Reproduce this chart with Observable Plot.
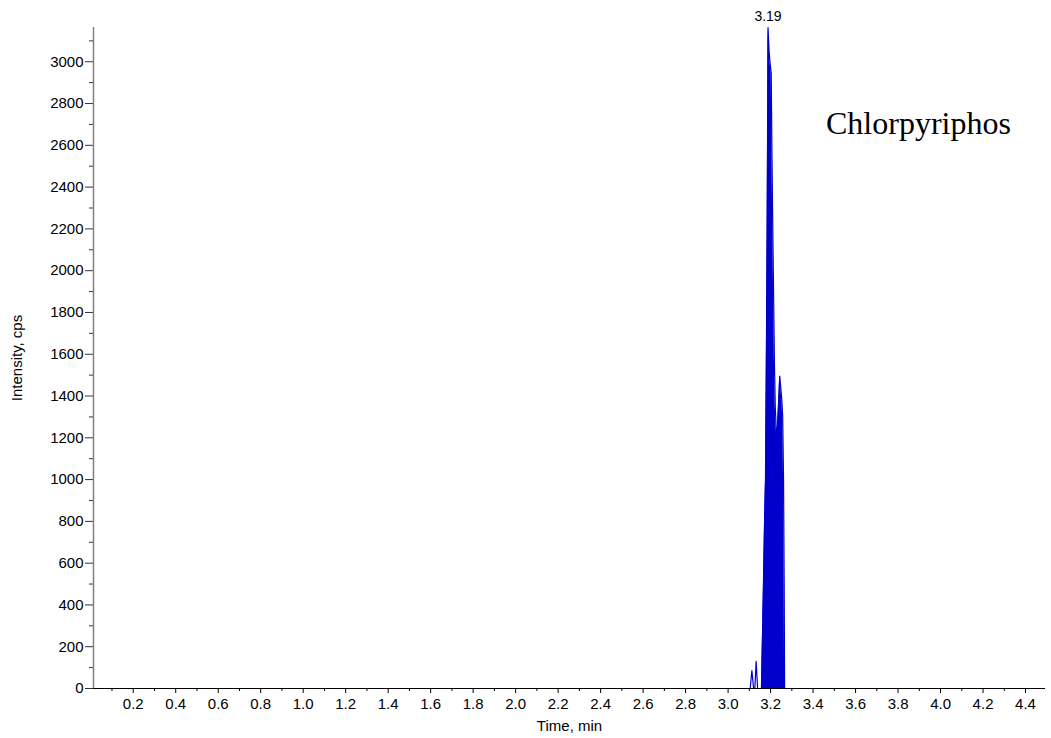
<!DOCTYPE html>
<html>
<head>
<meta charset="utf-8">
<script src="https://cdn.jsdelivr.net/npm/d3@7"></script>
<script src="https://cdn.jsdelivr.net/npm/@observablehq/plot@0.6"></script>
<style>
  html, body { margin: 0; padding: 0; background: #fff; }
  #wrap { position: relative; width: 1051px; height: 738px; }
  #compound { position: absolute; left: 826px; top: 107px; font-family: "Liberation Serif", "Times New Roman", serif; font-size: 32px; color: #000; line-height: 1; white-space: nowrap; }
</style>
</head>
<body>
<div id="wrap"><div id="compound">Chlorpyriphos</div></div>
<script>
// Chromatogram trace (Time, min vs Intensity, cps)
const times = [3.100, 3.104, 3.112, 3.120, 3.126, 3.132, 3.139, 3.150, 3.157, 3.165, 3.172, 3.176, 3.180, 3.184, 3.188, 3.193, 3.198, 3.203, 3.206, 3.210, 3.214, 3.218, 3.222, 3.227, 3.232, 3.236, 3.240, 3.243, 3.248, 3.253, 3.257, 3.261, 3.264, 3.266, 3.275];
const intensities = [0, 0, 86, 0, 0, 130, 0, 0, 0, 420, 820, 1000, 1560, 2240, 3163, 3050, 2990, 2943, 2600, 2230, 1900, 1567, 1350, 1233, 1240, 1330, 1420, 1495, 1440, 1380, 1300, 1000, 500, 0, 0];
const areaStart = 3.15;

const yMajor = d3.range(0, 3001, 200);
const yMinor = d3.range(100, 3101, 200);
const xMajor = d3.range(2, 45, 2).map(d => d / 10);
const xMinor = d3.range(1, 44, 2).map(d => d / 10);

const data = times.map((t, i) => ({t, v: intensities[i]}));
const peak = data.reduce((a, b) => (b.v > a.v ? b : a));
const blue = "#0000cc";

const chart = Plot.plot({
  width: 1051,
  height: 738,
  marginLeft: 93,
  marginRight: 6,
  marginTop: 27,
  marginBottom: 50,
  style: {fontFamily: "Liberation Sans, Arial, sans-serif", fontSize: "15px", color: "#000", background: "#fff"},
  x: {domain: [0.013, 4.494]},
  y: {domain: [0, 3164]},
  marks: [
    Plot.areaY(data.filter(d => d.t >= areaStart), {x: "t", y: "v", fill: blue, curve: "linear"}),
    Plot.lineY(data, {x: "t", y: "v", stroke: blue, strokeWidth: 1.2, curve: "linear"}),
    Plot.text([peak], {x: "t", y: "v", text: d => d.t.toFixed(2), dy: -11, fontSize: 14, fill: "#000"}),
    Plot.axisY(yMajor, {tickSize: 8, tickPadding: 2, tickFormat: d => String(d), stroke: "#333", label: "Intensity, cps", labelAnchor: "center", labelOffset: 82, labelArrow: "none"}),
    Plot.axisY(yMinor, {tickSize: 4, tickFormat: () => "", stroke: "#333", label: null}),
    Plot.axisX(xMajor, {tickSize: 5, tickPadding: 5, tickFormat: d3.format(".1f"), stroke: "#000", label: "Time, min", labelAnchor: "center", labelOffset: 42, labelArrow: "none"}),
    Plot.axisX(xMinor, {tickSize: 3, tickFormat: () => "", stroke: "#000", label: null}),
    Plot.ruleX([0.013], {stroke: "#808080", strokeWidth: 1.5}),
    Plot.ruleY([0], {stroke: "#000", strokeWidth: 1.2})
  ]
});
document.getElementById("wrap").prepend(chart);
</script>
</body>
</html>
